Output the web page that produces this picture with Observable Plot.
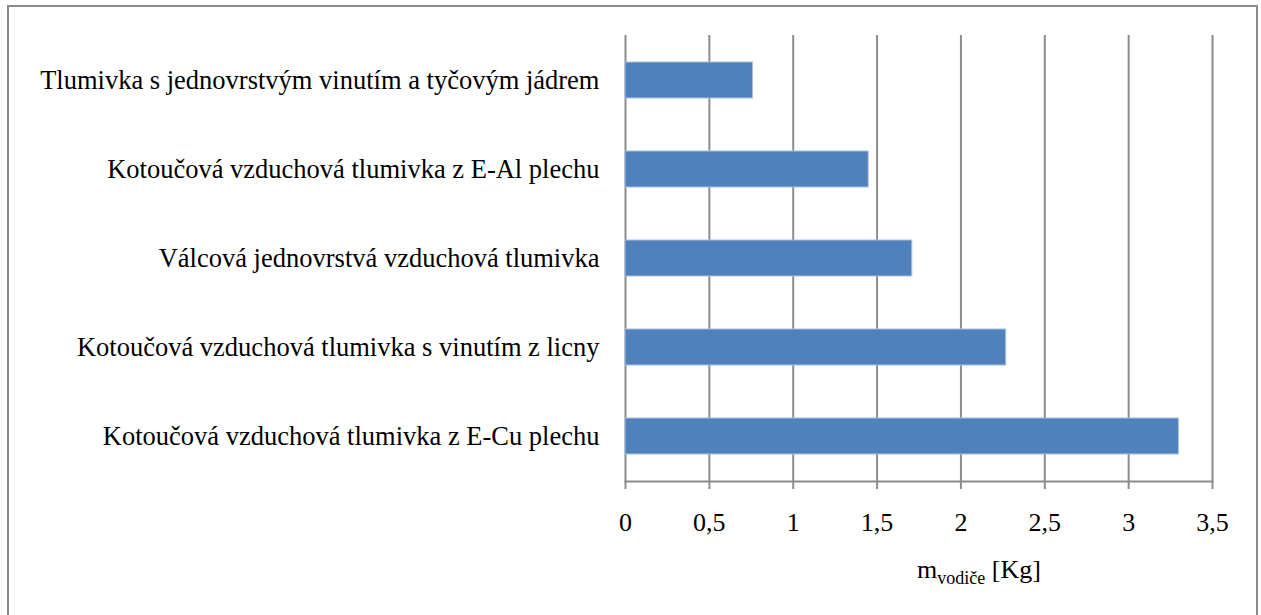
<!DOCTYPE html>
<html>
<head>
<meta charset="utf-8">
<script src="https://cdn.jsdelivr.net/npm/d3@7"></script>
<script src="https://cdn.jsdelivr.net/npm/@observablehq/plot@0.6"></script>
<style>
  html, body { margin: 0; padding: 0; background: #fff; }
  #wrap { position: relative; width: 1261px; height: 615px; overflow: hidden; }
  #border { position: absolute; left: 7px; top: 5px; width: 1251px; height: 640px; border: 2px solid #8c8c8c; box-sizing: border-box; pointer-events: none; }
</style>
</head>
<body>
<div id="wrap"><div id="border"></div></div>
<script>
const categories = [
  "Tlumivka s jednovrstvým vinutím a tyčovým jádrem",
  "Kotoučová vzduchová tlumivka z E-Al plechu",
  "Válcová jednovrstvá vzduchová tlumivka",
  "Kotoučová vzduchová tlumivka s vinutím z licny",
  "Kotoučová vzduchová tlumivka z E-Cu plechu"
];
const values = [0.76, 1.45, 1.71, 2.27, 3.30];
const xTicks = [0, 0.5, 1, 1.5, 2, 2.5, 3, 3.5];
const xTickLabels = ["0", "0,5", "1", "1,5", "2", "2,5", "3", "3,5"];
const axisTitleMain = "m";
const axisTitleSub = "vodiče";
const axisTitleUnit = " [Kg]";

const data = categories.map((c, i) => ({category: c, value: values[i]}));
const font = "'Liberation Serif', 'Times New Roman', serif";

const chart = Plot.plot({
  width: 1261,
  height: 615,
  marginLeft: 625,
  marginRight: 49,
  marginTop: 35,
  marginBottom: 134,
  style: {fontFamily: font, fontSize: "26px", color: "#000", background: "transparent"},
  x: {domain: [0, 3.5], ticks: xTicks},
  y: {domain: categories, paddingInner: 0.6, paddingOuter: 0.3},
  marks: [
    Plot.ruleX(xTicks, {stroke: "#8c8c8c", strokeWidth: 2, strokeOpacity: 1}),
    Plot.barX(data, {x: "value", y: "category", fill: "#4f81bd", stroke: "#a9c0de", strokeWidth: 1}),
    Plot.frame({anchor: "bottom", stroke: "#8c8c8c", strokeWidth: 2, strokeOpacity: 1}),
    Plot.axisX({ticks: xTicks, tickFormat: (d) => xTickLabels[xTicks.indexOf(d)], tickSize: 8, tickPadding: 23, stroke: "#8c8c8c", strokeWidth: 2, strokeOpacity: 1, fill: "#000", fontSize: 26, label: null}),
    Plot.axisY({tickSize: 0, tickPadding: 26, fontSize: 26.5, fill: "#000", label: null})
  ]
});

document.getElementById("wrap").prepend(chart);

// axis title with subscript
const svg = d3.select(chart);
const t = svg.append("text")
  .attr("x", 979)
  .attr("y", 578)
  .attr("text-anchor", "middle")
  .attr("font-family", font)
  .attr("font-size", 26)
  .attr("fill", "#000");
t.append("tspan").text(axisTitleMain);
t.append("tspan").attr("font-size", 18).attr("dy", 6).text(axisTitleSub);
t.append("tspan").attr("dy", -6).text(axisTitleUnit);
</script>
</body>
</html>
